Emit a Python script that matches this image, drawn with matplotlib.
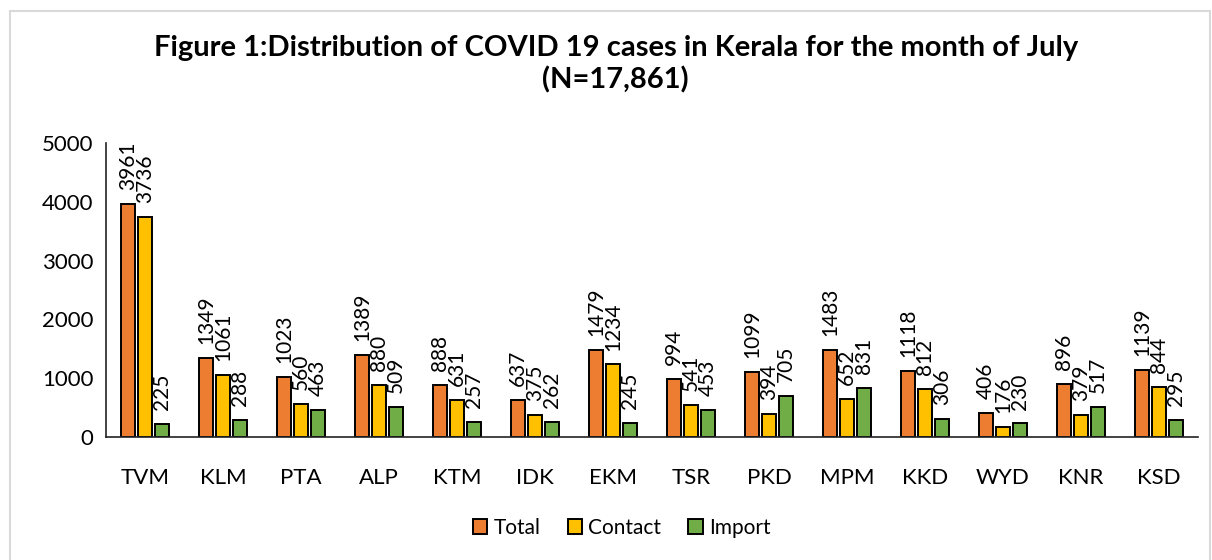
import numpy as np
import matplotlib.pyplot as plt
from matplotlib.patches import Rectangle

districts = ["TVM", "KLM", "PTA", "ALP", "KTM", "IDK", "EKM", "TSR",
             "PKD", "MPM", "KKD", "WYD", "KNR", "KSD"]
total = [3961, 1349, 1023, 1389, 888, 637, 1479, 994, 1099, 1483, 1118, 406, 896, 1139]
contact = [3736, 1061, 560, 880, 631, 375, 1234, 541, 394, 652, 812, 176, 379, 844]
imported = [225, 288, 463, 509, 257, 262, 245, 453, 705, 831, 306, 230, 517, 295]

series = [("Total", total, "#ED7D31"),
          ("Contact", contact, "#FFC000"),
          ("Import", imported, "#70AD47")]

plt.rcParams["font.family"] = ["Lato", "DejaVu Sans"]

fig = plt.figure(figsize=(12.12, 5.6), dpi=100)
# light grey chart border
fig.patches.append(Rectangle((10 / 1212, -0.01), 1200 / 1212, 1 - 11 / 560 + 0.01,
                             transform=fig.transFigure, fill=False,
                             edgecolor="#D9D9D9", linewidth=1.5))

ax = fig.add_axes([106 / 1212, 1 - 437 / 560, 1092 / 1212, 294 / 560])

x = np.arange(len(districts))
w = 0.175
offsets = [-0.22, 0, 0.22]
for (name, vals, col), off in zip(series, offsets):
    bars = ax.bar(x + off, vals, w, color=col, edgecolor="black", linewidth=1.4, label=name)
    for b, v in zip(bars, vals):
        ax.annotate(str(v), (b.get_x() + b.get_width() / 2, v), xytext=(0, 10),
                    textcoords="offset points", rotation=90, ha="center", va="bottom",
                    fontsize=15)

ax.set_xlim(-0.5, 13.5)
ax.set_ylim(0, 5000)
ax.set_yticks(range(0, 5001, 1000))
ax.set_xticks(x)
ax.set_xticklabels(districts)
ax.tick_params(axis="both", length=0, labelsize=16)
ax.tick_params(axis="x", pad=22)
ax.tick_params(axis="y", pad=9)
for s in ["top", "right"]:
    ax.spines[s].set_visible(False)
ax.spines["left"].set_linewidth(1.2)
ax.spines["bottom"].set_linewidth(1.2)
ax.spines["left"].set_color("#222222")
ax.spines["bottom"].set_color("#222222")

fig.text(0.508, 0.885, "Figure 1:Distribution of COVID 19 cases in Kerala for the month of July\n(N=17,861)",
         ha="center", va="center", fontsize=21, fontweight="bold", linespacing=1.25)

fig.legend(loc="center", bbox_to_anchor=(0.513, 0.058), ncol=3, frameon=False,
           fontsize=15, handlelength=0.7, handleheight=0.7, handletextpad=0.3,
           columnspacing=1.3)

fig.savefig("out.png", dpi=100)
